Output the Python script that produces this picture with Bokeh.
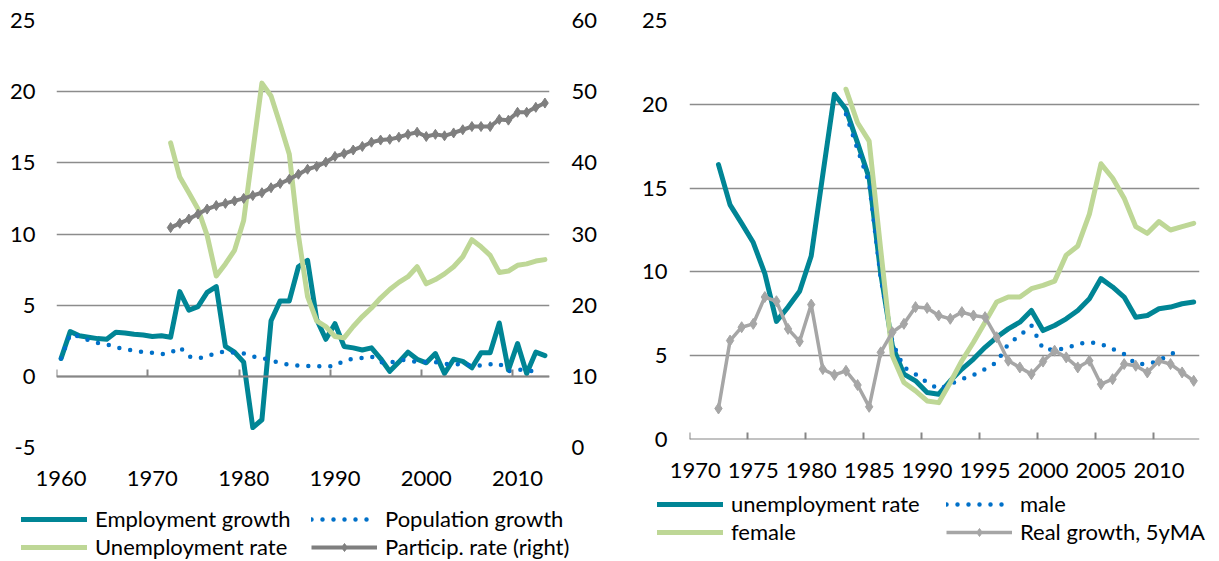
from bokeh.plotting import figure
from bokeh.models import Range1d, LinearAxis, FixedTicker, Legend, LegendItem
from bokeh.layouts import row, column
from bokeh.embed import file_html
from bokeh.resources import INLINE

NaN = float("nan")
FONT = "Lato"
FS = "22px"

TEAL = "#008595"
BLUE = "#0070C8"
GREEN = "#BED796"
DGRAY = "#7F7F7F"
LGRAY = "#A6A6A6"
GRID = "#8C8C8C"

# ---------------- data ----------------
years_left = list(range(1960, 2014))
emp_growth = [1.25, 3.15, 2.85, 2.75, 2.65, 2.6, 3.1, 3.05, 2.95, 2.9, 2.8, 2.85, 2.75,
              5.95, 4.65, 4.9, 5.9, 6.3, 2.1, 1.7, 1.0, -3.6, -3.05, 3.9, 5.3, 5.3,
              7.7, 8.15, 4.0, 2.6, 3.7, 2.1, 2.0, 1.85, 2.0, 1.25, 0.35, 1.0, 1.7,
              1.2, 0.95, 1.6, 0.2, 1.2, 1.05, 0.6, 1.65, 1.65, 3.75, 0.45, 2.3, 0.2,
              1.7, 1.45]
pop_growth = [1.25, 2.95, 2.8, 2.55, 2.35, 2.25, 2.05, 1.9, 1.8, 1.7, 1.65, 1.55, 1.65,
              2.05, 1.4, 1.25, 1.4, 1.65, 1.75, 1.65, 1.6, 1.4, 1.3, 1.1, 0.95, 0.8,
              0.75, 0.72, 0.7, 0.7, 0.72, 1.1, 1.25, 1.3, 1.4, 1.0, 0.95, 1.15, 1.15,
              1.0, 1.0, 1.0, 0.85, 0.9, 0.8, 0.8, 0.75, 0.85, 0.9, 0.35, 0.5, 0.4,
              0.35, NaN]

years_72 = list(range(1972, 2014))
unemp_rate = [16.4, 14.0, 12.9, 11.75, 9.9, 7.05, 7.9, 8.85, 10.95, 15.8, 20.6, 19.7,
              17.7, 15.6, 9.9, 5.6, 3.9, 3.5, 2.8, 2.7, 3.5, 4.2, 4.8, 5.5, 6.1, 6.6,
              7.0, 7.7, 6.5, 6.8, 7.2, 7.7, 8.4, 9.6, 9.1, 8.5, 7.3, 7.4, 7.8, 7.9,
              8.1, 8.2]
particip_rate = [30.9, 31.5, 32.1, 32.8, 33.5, 34.0, 34.3, 34.65, 35.0, 35.4, 35.8,
                 36.5, 37.1, 37.7, 38.4, 39.1, 39.5, 40.1, 40.9, 41.3, 41.8, 42.3,
                 42.9, 43.2, 43.3, 43.6, 44.0, 44.3, 43.7, 44.0, 43.8, 44.2, 44.65,
                 45.1, 45.1, 45.1, 46.1, 46.0, 47.1, 47.1, 47.8, 48.4]
real_growth = [1.85, 5.9, 6.7, 6.9, 8.5, 8.25, 6.6, 5.85, 8.05, 4.2, 3.85, 4.1, 3.25,
               1.95, 5.2, 6.4, 6.9, 7.9, 7.85, 7.4, 7.2, 7.6, 7.4, 7.3, 6.1, 4.7, 4.3,
               3.9, 4.65, 5.3, 4.9, 4.3, 4.7, 3.3, 3.6, 4.5, 4.4, 4.0, 4.7, 4.5, 4.0,
               3.5]

years_83 = list(range(1983, 2014))
male = [19.4, 17.3, 15.3, 9.6, 5.8, 4.3, 3.9, 3.4, 3.0, 3.3, 3.6, 3.85, 4.2, 4.6, 5.7,
        6.2, 6.8, 5.4, 5.35, 5.45, 5.7, 5.8, 5.7, 5.4, 5.1, 4.5, 4.5, 4.7, 5.1, 5.3, NaN]
female = [20.9, 18.9, 17.8, 11.3, 5.0, 3.4, 2.9, 2.3, 2.2, 3.4, 4.7, 5.8, 7.0, 8.2, 8.5,
          8.5, 9.0, 9.2, 9.45, 11.0, 11.55, 13.45, 16.45, 15.6, 14.4, 12.7, 12.3, 13.0,
          12.5, 12.7, 12.9]

left_xticks = [1960, 1970, 1980, 1990, 2000, 2010]
left_cat_edges = [1959.5, 1969.5, 1979.5, 1989.5, 1999.5, 2009.5]
left_yticks = [-5, 0, 5, 10, 15, 20, 25]
right_axis_ticks = [0, 10, 20, 30, 40, 50, 60]
right_xticks = [1970, 1975, 1980, 1985, 1990, 1995, 2000, 2005, 2010]
right_cat_edges = [1969.5, 1974.5, 1979.5, 1984.5, 1989.5, 1994.5, 1999.5, 2004.5, 2009.5]
right_yticks = [0, 5, 10, 15, 20, 25]

STYLES = {
    "teal": dict(line_color=TEAL, line_width=5, line_join="round", line_cap="round"),
    "dots": dict(line_color=BLUE, line_width=4.5, line_dash="0 11", line_cap="round",
                 line_join="round"),
    "green": dict(line_color=GREEN, line_width=5, line_join="round", line_cap="round"),
    "dgray": dict(line_color=DGRAY, line_width=4, line_join="round"),
    "lgray": dict(line_color=LGRAY, line_width=3.5, line_join="round"),
}
DG_MARK = dict(marker="diamond", size=10, fill_color=DGRAY, line_color=DGRAY)
LG_MARK = dict(marker="diamond", size=11, fill_color=LGRAY, line_color=LGRAY)


def style_label_axis(ax, standoff):
    ax.major_label_text_font = FONT
    ax.major_label_text_font_size = FS
    ax.major_label_text_color = "black"
    ax.axis_line_color = None
    ax.major_tick_line_color = None
    ax.major_tick_out = 0
    ax.major_tick_in = 0
    ax.minor_tick_line_color = None
    ax.minor_tick_out = 0
    ax.minor_tick_in = 0
    ax.major_label_standoff = standoff


def tick_axis(edges):
    # category-boundary tick marks on the zero line (drawn upward)
    return LinearAxis(fixed_location=0, ticker=FixedTicker(ticks=edges),
                      major_label_overrides={e: "" for e in edges},
                      major_label_text_alpha=0, major_label_text_font_size="1px",
                      major_label_standoff=0,
                      axis_line_color="#868686", axis_line_width=2,
                      major_tick_line_color="#868686", major_tick_line_width=2,
                      major_tick_in=0, major_tick_out=7, minor_tick_line_color=None,
                      minor_tick_in=0, minor_tick_out=0)


def legend_fig(width, height):
    f = figure(width=width, height=height, x_range=Range1d(0, 1), y_range=Range1d(0, 1),
               x_axis_type=None, y_axis_type=None, output_backend="svg",
               toolbar_location=None, min_border=0)
    f.outline_line_color = None
    f.grid.visible = False
    f.frame_align = False
    return f


def make_legend(items, loc):
    return Legend(items=items, location=loc, border_line_color=None,
                  background_fill_alpha=0, padding=0, margin=0, spacing=1,
                  glyph_width=66, glyph_height=20, label_height=20, label_standoff=8,
                  label_text_font=FONT, label_text_font_size=FS, label_text_color="black")


# ---------------- left chart ----------------
p1 = figure(width=618, height=499, x_range=Range1d(1959.5, 2013.5), y_range=Range1d(-5, 25),
            output_backend="svg", toolbar_location=None, min_border_left=56,
            min_border_right=69, min_border_top=20, min_border_bottom=52)
p1.frame_align = False
p1.extra_y_ranges = {"right": Range1d(0, 60)}
p1.outline_line_color = None
p1.xgrid.visible = False
p1.ygrid.ticker = FixedTicker(ticks=left_yticks)
p1.ygrid.grid_line_color = GRID
p1.ygrid.grid_line_width = 1.5

p1.yaxis.ticker = FixedTicker(ticks=left_yticks)
style_label_axis(p1.yaxis[0], 21)
p1.yaxis[0].major_label_overrides = {-5: "-5"}
p1.xaxis.ticker = FixedTicker(ticks=left_xticks)
style_label_axis(p1.xaxis[0], 23)
rax = LinearAxis(y_range_name="right", ticker=FixedTicker(ticks=right_axis_ticks))
style_label_axis(rax, 22)
p1.add_layout(rax, "right")
p1.add_layout(tick_axis(left_cat_edges), "above")

p1.line(years_left, emp_growth, **STYLES["teal"])
p1.line(years_left, pop_growth, **STYLES["dots"])
p1.line(years_72, unemp_rate, **STYLES["green"])
p1.line(years_72, particip_rate, y_range_name="right", **STYLES["dgray"])
p1.scatter(years_72, particip_rate, y_range_name="right", **DG_MARK)

# left legend (below left chart)
l1 = legend_fig(618, 62)
a1 = l1.line([NaN], [NaN], **STYLES["teal"])
a2 = l1.line([NaN], [NaN], **STYLES["green"])
a3 = l1.line([NaN], [NaN], **STYLES["dots"])
a4 = l1.line([NaN], [NaN], **STYLES["dgray"])
a5 = l1.scatter([NaN], [NaN], **DG_MARK)
l1.add_layout(make_legend([LegendItem(label="Employment growth", renderers=[a1]),
                           LegendItem(label="Unemployment rate", renderers=[a2])],
                          (21, 1)))
l1.add_layout(make_legend([LegendItem(label="Population growth", renderers=[a3]),
                           LegendItem(label="Particip. rate (right)", renderers=[a4, a5])],
                          (311, 1)))

# ---------------- right chart ----------------
p2 = figure(width=601, height=489, x_range=Range1d(1969.5, 2013.5), y_range=Range1d(0, 25),
            output_backend="svg", toolbar_location=None, min_border_left=71,
            min_border_right=20, min_border_top=20, min_border_bottom=50)
p2.frame_align = False
p2.outline_line_color = None
p2.xgrid.visible = False
p2.ygrid.ticker = FixedTicker(ticks=right_yticks)
p2.ygrid.grid_line_color = GRID
p2.ygrid.grid_line_width = 1.5
p2.yaxis.ticker = FixedTicker(ticks=right_yticks)
style_label_axis(p2.yaxis[0], 22)
p2.xaxis.ticker = FixedTicker(ticks=right_xticks)
style_label_axis(p2.xaxis[0], 23)
p2.add_layout(tick_axis(right_cat_edges), "above")

p2.line(years_72, unemp_rate, **STYLES["teal"])
p2.line(years_83, male, **STYLES["dots"])
p2.line(years_83, female, **STYLES["green"])
p2.line(years_72, real_growth, **STYLES["lgray"])
p2.scatter(years_72, real_growth, **LG_MARK)

l2 = legend_fig(601, 72)
b1 = l2.line([NaN], [NaN], **STYLES["teal"])
b2 = l2.line([NaN], [NaN], **STYLES["green"])
b3 = l2.line([NaN], [NaN], **STYLES["dots"])
b4 = l2.line([NaN], [NaN], **STYLES["lgray"])
b5 = l2.scatter([NaN], [NaN], **LG_MARK)
l2.add_layout(make_legend([LegendItem(label="unemployment rate", renderers=[b1]),
                           LegendItem(label="female", renderers=[b2])],
                          (39, 16)))
l2.add_layout(make_legend([LegendItem(label="male", renderers=[b3]),
                           LegendItem(label="Real growth, 5yMA", renderers=[b4, b5])],
                          (328, 16)))

layout = row(column(p1, l1), column(p2, l2))
open("out.html", "w").write(file_html(layout, INLINE))
